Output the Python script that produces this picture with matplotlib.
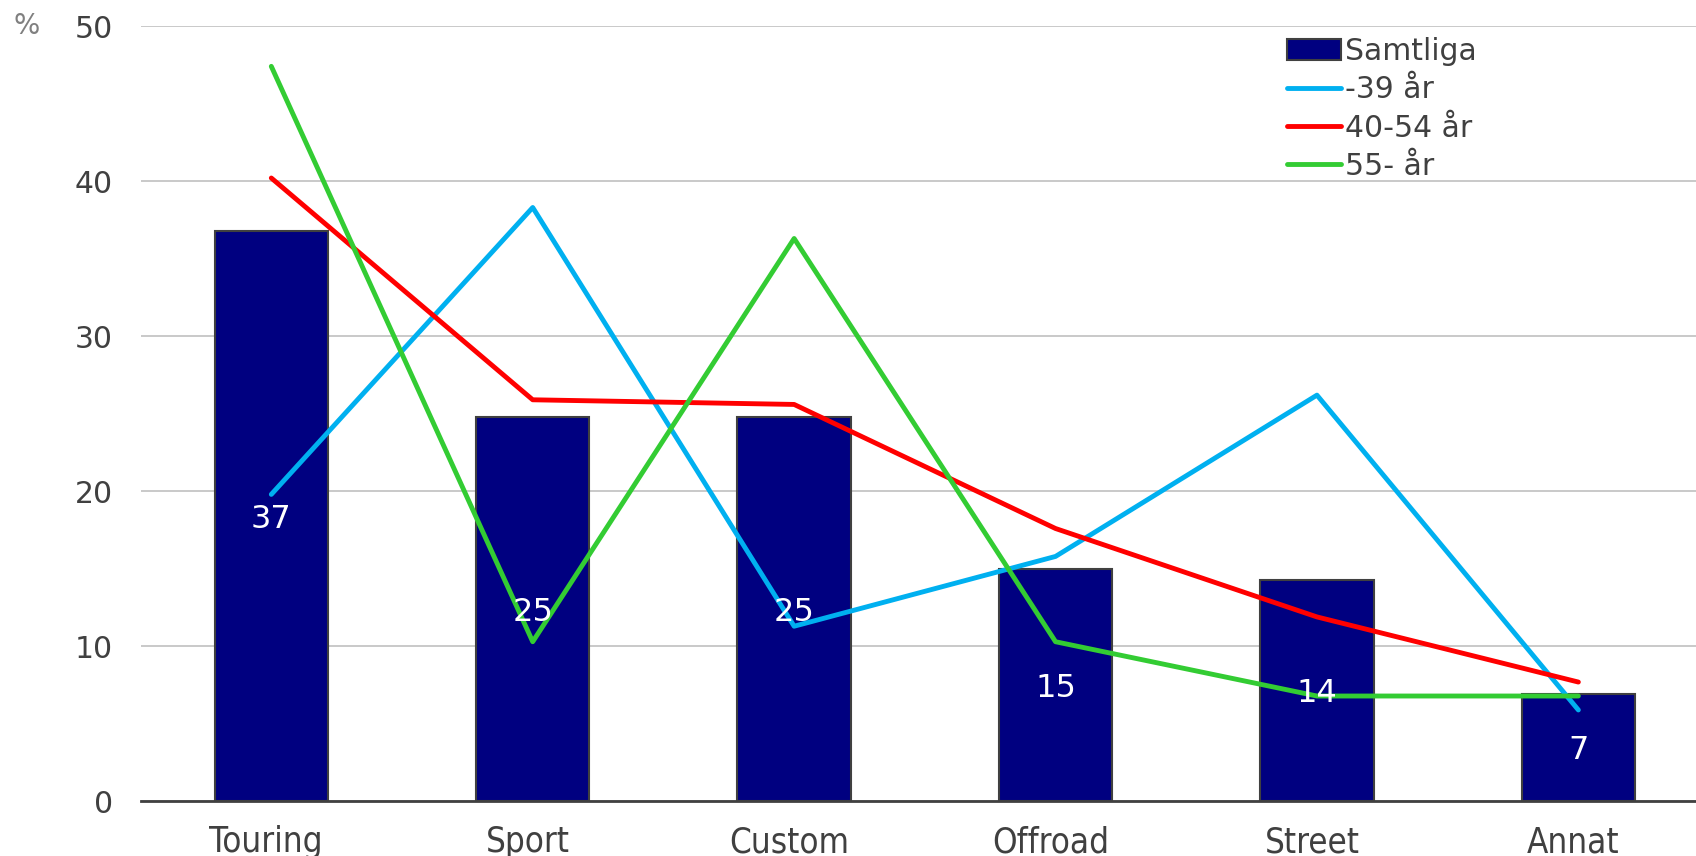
import numpy as np
from matplotlib import pyplot as plt
from matplotlib.transforms import ScaledTranslation

# Data
categories = ['Touring', 'Sport', 'Custom', 'Offroad', 'Street', 'Annat']
samtliga = [36.8, 24.8, 24.8, 15.0, 14.3, 6.9]
samtliga_labels = ['37', '25', '25', '15', '14', '7']
young = [19.8, 38.3, 11.3, 15.8, 26.2, 5.9]      # -39 år
middle = [40.2, 25.9, 25.6, 17.6, 11.9, 7.7]     # 40-54 år
old = [47.4, 10.3, 36.3, 10.3, 6.8, 6.8]         # 55- år
yticks = [0, 10, 20, 30, 40, 50]

plt.rcParams['font.family'] = 'DejaVu Sans'
fig = plt.figure(figsize=(16.96, 8.56), dpi=100)
ax = fig.add_axes([0.0829, 0.0637, 0.9171, 0.9059])

x = np.arange(len(categories))
bars = ax.bar(x, samtliga, width=0.434, color='#000080', edgecolor='#404040',
              linewidth=1.5, label='Samtliga', zorder=2)
l1, = ax.plot(x, young, color='#00B0F0', lw=3.5, solid_capstyle='round', label='-39 år', zorder=3)
l2, = ax.plot(x, middle, color='#FF0000', lw=3.5, solid_capstyle='round', label='40-54 år', zorder=3)
l3, = ax.plot(x, old, color='#33CC33', lw=3.5, solid_capstyle='round', label='55- år', zorder=3)

down = ax.transData + ScaledTranslation(0, -3 / 100, fig.dpi_scale_trans)
for xi, v, lab in zip(x, samtliga, samtliga_labels):
    ax.text(xi, v / 2, lab, color='white', ha='center', va='center', fontsize=23,
            zorder=4, transform=down)

ax.set_xlim(-0.5, 5.45)
ax.set_ylim(0, 50)
ax.set_yticks(yticks)
ax.yaxis.grid(True, color='#C0C0C0', lw=1.2, zorder=0)
ax.set_axisbelow(True)
for s in ['left', 'right', 'top']:
    ax.spines[s].set_visible(False)
ax.spines['bottom'].set_color('#404040')
ax.spines['bottom'].set_linewidth(2)
ax.tick_params(axis='y', length=0, pad=20, labelsize=21.5, labelcolor='#404040')
ax.tick_params(axis='x', length=0, pad=17, labelsize=25, labelcolor='#404040')
ax.set_xticks(x)
ax.set_xticklabels(categories, fontstretch='condensed')
shift = ScaledTranslation(-5 / 100, 0, fig.dpi_scale_trans)
for lbl in ax.get_xticklabels():
    lbl.set_transform(lbl.get_transform() + shift)

fig.text(27 / 1696, 1 - 26 / 856, '%', color='#808080', fontsize=20, ha='center', va='center')

leg = fig.legend([bars, l1, l2, l3], ['Samtliga', '-39 år', '40-54 år', '55- år'],
                 loc='upper left', bbox_to_anchor=(1287 / 1696, 1 - 37 / 856), frameon=False,
                 fontsize=21.5, handlelength=1.8, handletextpad=0.15, labelspacing=0.31,
                 borderpad=0, borderaxespad=0)
for t in leg.get_texts():
    t.set_color('#404040')

fig.savefig('out.png', dpi=100)
